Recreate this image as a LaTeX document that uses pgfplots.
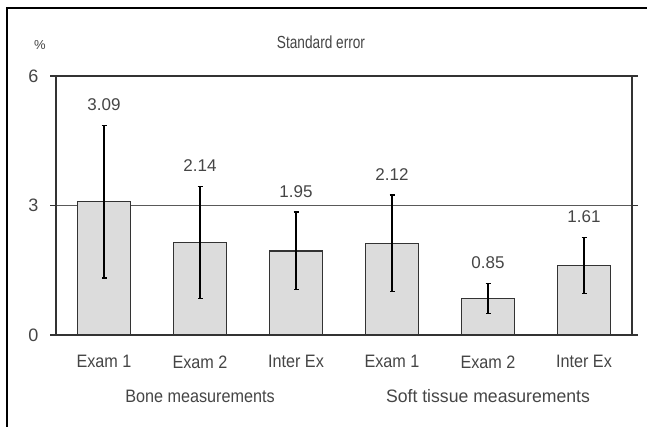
\documentclass[border=0pt]{standalone}
\usepackage{graphicx}
\usepackage{pgfplots}
\pgfplotsset{compat=1.18}
\usepackage{fontspec}
\setmainfont{Liberation Sans}
\definecolor{txt}{HTML}{454545}
\definecolor{barfill}{HTML}{DCDCDC}
\definecolor{edge}{HTML}{333333}
\newcommand{\sq}[1]{\scalebox{0.9}[1]{#1}}
\begin{document}
\begin{tikzpicture}[x=1pt,y=1pt]
\useasboundingbox (0,0) rectangle (647,-427);
\draw[line width=2.2pt,black] (7,-428) -- (7,-8) -- (648,-8);
\node[text=txt,font=\fontsize{17.5}{19}\selectfont] at (321,-42) {\scalebox{0.78}[1]{Standard error}};
\node[text=txt,font=\fontsize{13}{15}\selectfont] at (40,-45) {\%};
\begin{axis}[
  at={(56pt,-335pt)}, anchor=south west,
  scale only axis, width=576pt, height=259pt,
  xmin=0.5, xmax=6.5, ymin=0, ymax=6,
  ytick={0,3,6},
  xtick={1,2,3,4,5,6},
  xticklabels={\sq{Exam 1},\sq{Exam 2},\sq{Inter Ex},\sq{Exam 1},\sq{Exam 2},\sq{Inter Ex}},
  minor xtick={0.5,1.5,2.5,3.5,4.5,5.5,6.5},
  xtick style={draw=none},
  minor x tick style={edge,line width=1.5pt},
  y tick style={edge,line width=1.5pt},
  minor tick length=7pt, major tick length=6pt,
  tick align=outside,
  axis line style={edge,line width=1.8pt},
  ymajorgrids, grid style={black!65,line width=1.1pt},
  /pgf/number format/assume math mode=true,
  ticklabel style={text=txt,font=\fontsize{18}{20}\selectfont},
  xticklabel style={yshift=-11pt},
  yticklabel style={xshift=-8pt},
  clip=false,
]
\addplot[ybar, bar width=53pt, fill=barfill, draw=edge, line width=1.6pt,
  error bars/.cd, y dir=both, y explicit,
  error bar style={black,line width=1.3pt},
  error mark options={rotate=90,mark size=2.5pt,line width=1.3pt}]
  table[x=x,y=y,y error=e] {
  x y e
  1 3.09 1.77
  2 2.14 1.30
  3 1.95 0.90
  4 2.12 1.12
  5 0.85 0.35
  6 1.61 0.65
  };
\addplot[draw=none, mark=none, nodes near coords, point meta=explicit symbolic,
  every node near coord/.style={anchor=south,yshift=11pt,text=txt,font=\fontsize{17}{19}\selectfont}]
  table[x=x,y=y,meta=lab] {
  x y lab
  1 4.86 3.09
  2 3.44 2.14
  3 2.85 1.95
  4 3.24 2.12
  5 1.20 0.85
  6 2.26 1.61
  };
\node[text=txt,font=\fontsize{18}{20}\selectfont] at (axis cs:2,0) [yshift=-61pt] {\sq{Bone measurements}};
\node[text=txt,font=\fontsize{18}{20}\selectfont] at (axis cs:5,0) [yshift=-61pt] {\scalebox{0.98}[1]{Soft tissue measurements}};
\end{axis}
\end{tikzpicture}
\end{document}
